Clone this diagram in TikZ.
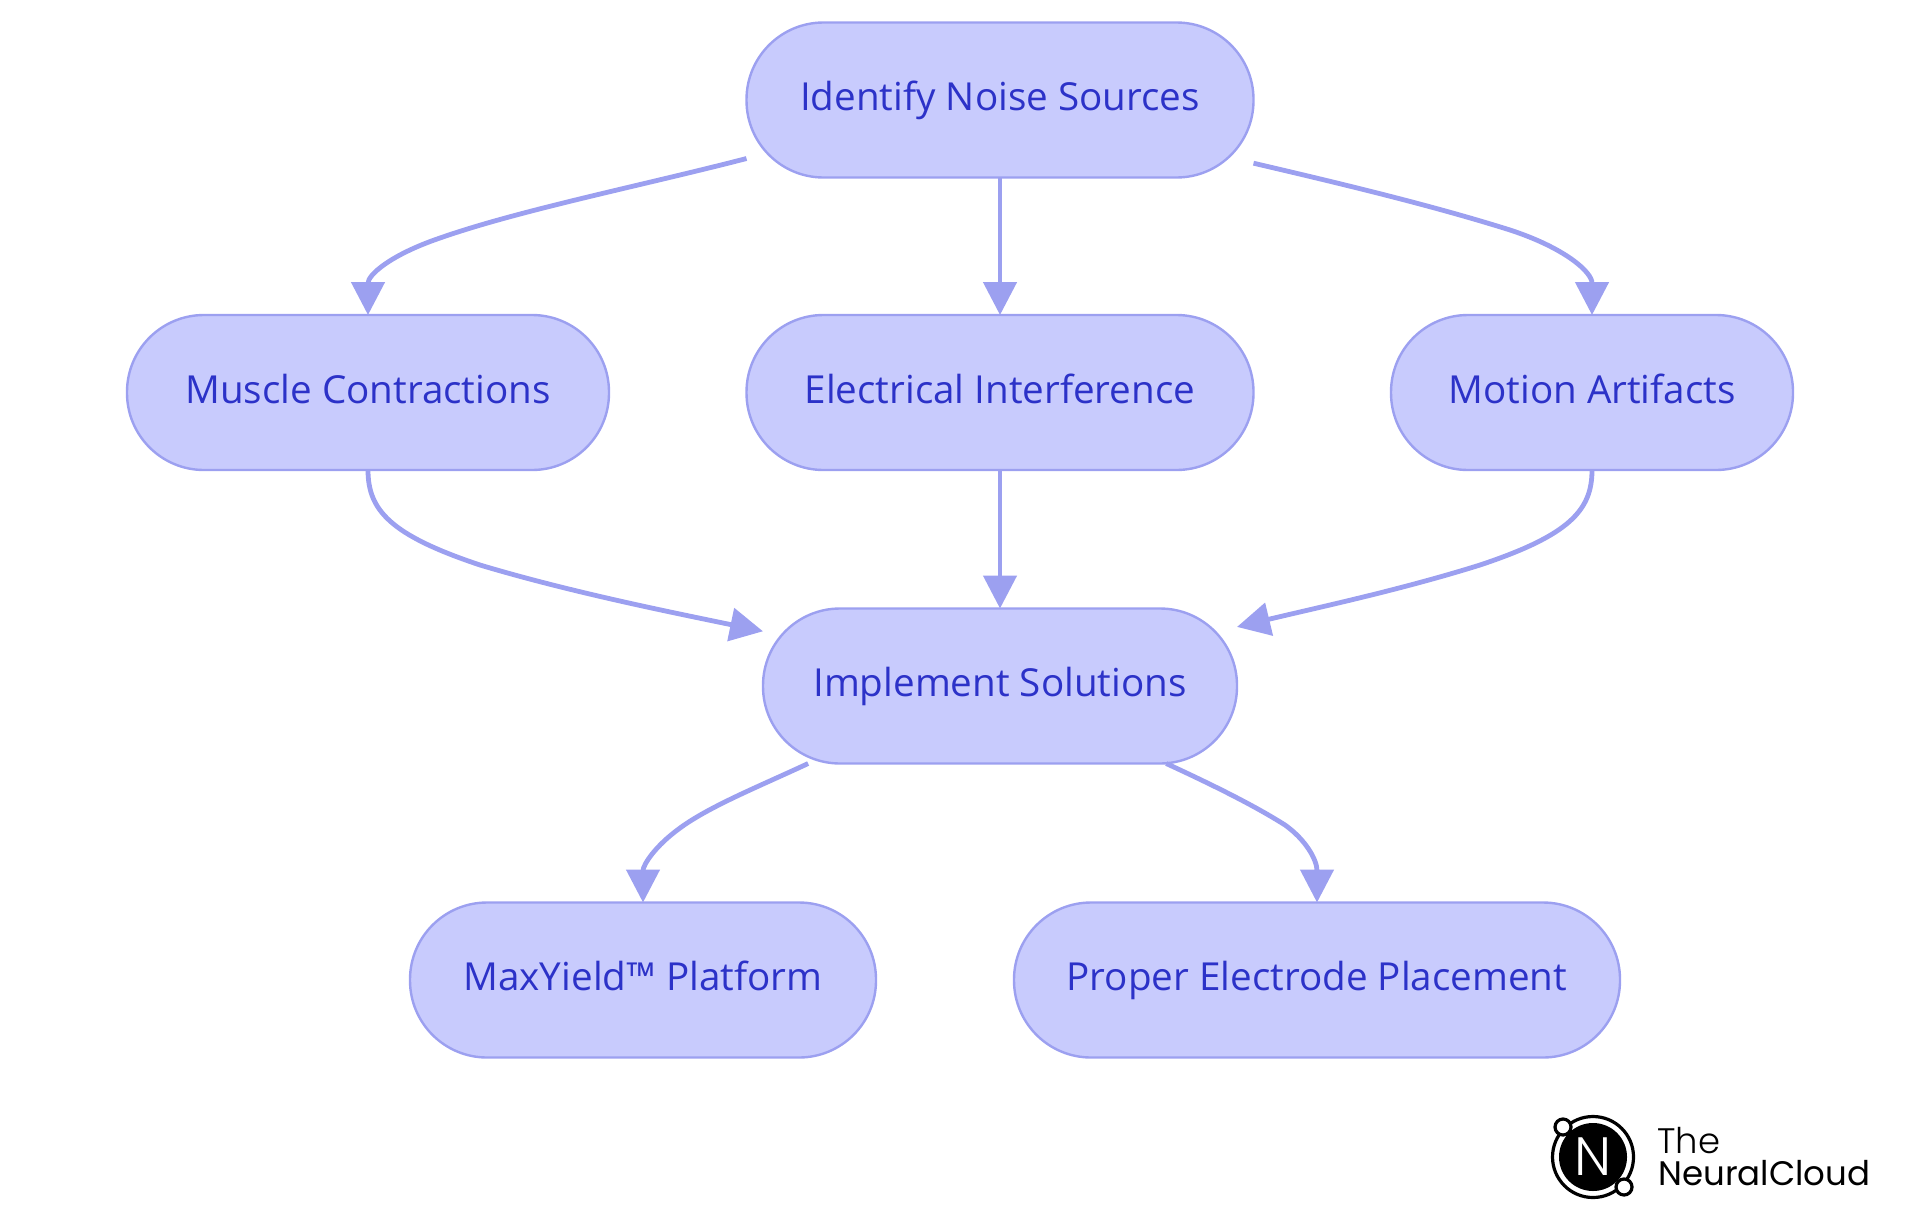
\documentclass[tikz,border=0pt]{standalone}
\usepackage{fontspec}
\setmainfont{Open Sans}
\newfontfamily\logolight[UprightFont=* Light]{Poppins}
\newfontfamily\logofont{Poppins}
\usepackage{xcolor}
\usetikzlibrary{arrows, arrows.meta}
\definecolor{boxfill}{HTML}{C8CBFD}
\definecolor{boxline}{HTML}{9CA0F0}
\definecolor{boxtext}{HTML}{2C32C8}
\tikzset{
  stepbox/.style={draw=boxline, fill=boxfill, line width=1.2pt, rounded corners=38.5pt, minimum height=77.5pt, inner sep=0pt, outer sep=0pt, text=boxtext, text height=14pt, text depth=3.2pt, font=\fontsize{19.3}{22}\selectfont},
  flow/.style={draw=boxline, line width=2.4pt, -{Triangle[length=16.5pt,width=16.5pt]}},
  logotext/.style={anchor=base west, inner sep=0pt, text depth=0pt},
}
\begin{document}
\begin{tikzpicture}[x=.5pt,y=-.5pt]
  \useasboundingbox (0,0) rectangle (1920,1215);
  % Draw boxes
  \node[stepbox, minimum width=253.5pt] (identify) at (1000,100) {Identify Noise Sources};
  \node[stepbox, minimum width=241pt] (muscle) at (368,392.5) {Muscle Contractions};
  \node[stepbox, minimum width=253.5pt] (electrical) at (1000,392.5) {Electrical Interference};
  \node[stepbox, minimum width=201pt] (motion) at (1592,392.5) {Motion Artifacts};
  \node[stepbox, minimum width=237pt] (implement) at (1000,686) {Implement Solutions};
  \node[stepbox, minimum width=233pt] (maxyield) at (643,980) {MaxYield™ Platform};
  \node[stepbox, minimum width=303pt] (placement) at (1317,980) {Proper Electrode Placement};
  % Arrows out of the first box
  \draw[flow] (identify.193.6) .. controls (640,186) and (520,210) .. (440,238) .. controls (390,255) and (368,275) .. (muscle.north);
  \draw[flow] (identify) -- (electrical);
  \draw[flow] (identify.346.3) .. controls (1360,188) and (1440,208) .. (1510,230) .. controls (1565,248) and (1592,272) .. (motion.north);
  % Arrows into the solutions box
  \draw[flow] (muscle.south) .. controls (368,510) and (390,535) .. (480,565) .. controls (570,592) and (670,612) .. (implement.167.2);
  \draw[flow] (electrical) -- (implement);
  \draw[flow] (motion.south) .. controls (1592,510) and (1570,535) .. (1480,565) .. controls (1400,590) and (1320,607) .. (implement.14.1);
  % Arrows to the last row
  \draw[flow] (implement.202.7) .. controls (760,786) and (710,806) .. (680,828) .. controls (655,846) and (643,865) .. (maxyield.north);
  \draw[flow] (implement.335) .. controls (1215,786) and (1255,806) .. (1285,825) .. controls (1306,840) and (1317,860) .. (placement.north);
  % Logo
  \draw[black, line width=1.6pt] (1593,1157) circle (40.5);
  \fill[black] (1593,1157) circle (34);
  \draw[black, fill=white, line width=1.6pt] (1563,1127) circle (8);
  \draw[black, fill=white, line width=1.6pt] (1624,1187) circle (8);
  \node[text=white, font=\logolight\fontsize{27}{27}\selectfont, inner sep=0pt] (logoN) at (1593,1157) {N};
  \node[logotext, font=\logolight\fontsize{17.7}{18}\selectfont] (logoThe) at (1657,1153) {The};
  \node[logotext, font=\logofont\fontsize{17}{18}\selectfont] (logoCloud) at (1658,1185) {NeuralCloud};
\end{tikzpicture}
\end{document}
